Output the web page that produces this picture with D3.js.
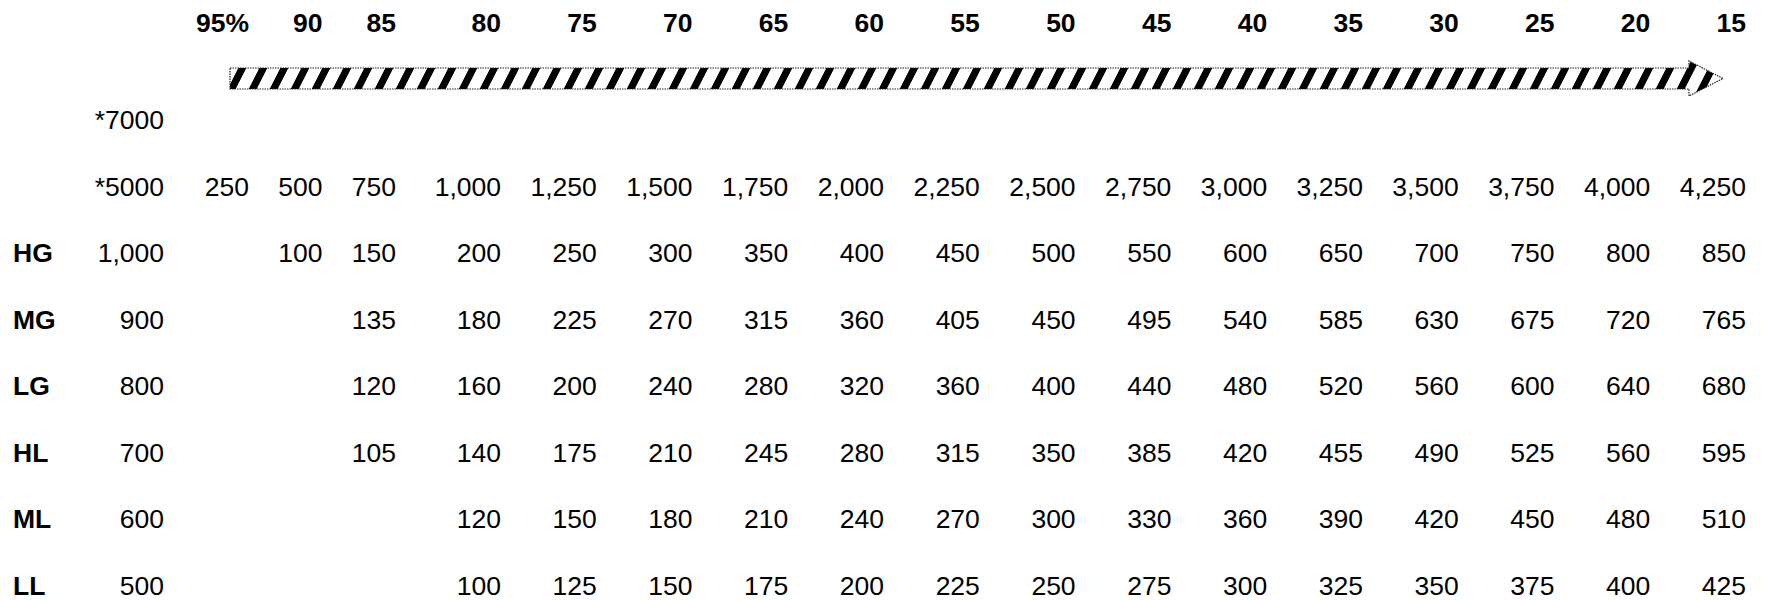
<!DOCTYPE html>
<html>
<head>
<meta charset="utf-8">
<script src="https://cdn.jsdelivr.net/npm/d3@7"></script>
<style>
  body { margin: 0; background: #fff; }
  svg { display: block; font-family: "Liberation Sans", Arial, sans-serif; }
</style>
</head>
<body>
<script>
// ---- data
var colHeads = ["95%", "90", "85", "80", "75", "70", "65", "60", "55", "50", "45", "40", "35", "30", "25", "20", "15"]
var rowLabels = ["", "", "HG", "MG", "LG", "HL", "ML", "LL"]
var rowBase = ["*7000", "*5000", 1000, 900, 800, 700, 600, 500]

var row7000 = []
var row5000 = [250, 500, 750, 1000, 1250, 1500, 1750, 2000, 2250, 2500, 2750, 3000, 3250, 3500, 3750, 4000, 4250]
var rowHG = [null, 100, 150, 200, 250, 300, 350, 400, 450, 500, 550, 600, 650, 700, 750, 800, 850]
var rowMG = [null, null, 135, 180, 225, 270, 315, 360, 405, 450, 495, 540, 585, 630, 675, 720, 765]
var rowLG = [null, null, 120, 160, 200, 240, 280, 320, 360, 400, 440, 480, 520, 560, 600, 640, 680]
var rowHL = [null, null, 105, 140, 175, 210, 245, 280, 315, 350, 385, 420, 455, 490, 525, 560, 595]
var rowML = [null, null, null, 120, 150, 180, 210, 240, 270, 300, 330, 360, 390, 420, 450, 480, 510]
var rowLL = [null, null, null, 100, 125, 150, 175, 200, 225, 250, 275, 300, 325, 350, 375, 400, 425]

var rows = [row7000, row5000, rowHG, rowMG, rowLG, rowHL, rowML, rowLL]

// ---- layout
var width = 1771, height = 600
var fontSize = 26.5
var fmt = d3.format(",")

// column right edges: three narrow cols, then evenly spaced ones
var x = d3.scaleLinear()
	.domain([0, 2, 3, colHeads.length - 1])
	.range([249, 396, 501, 1746])

var y = d3.scaleLinear()
	.domain([0, rows.length - 1])
	.range([129, 595])

var svg = d3.select("body").append("svg")
	.attr("width", width)
	.attr("height", height)

// ---- stripe pattern for the arrow
var defs = svg.append("defs")
var pat = defs.append("pattern")
	.attr("id", "stripes")
	.attr("patternUnits", "userSpaceOnUse")
	.attr("width", 21)
	.attr("height", 21)
	.attr("y", 68)
	.attr("patternTransform", "skewX(-27)")
pat.append("rect")
	.attr("width", 21).attr("height", 21)
	.attr("fill", "#fff")
pat.append("rect")
	.attr("x", 0).attr("width", 8).attr("height", 21)
	.attr("fill", "#000")

// ---- header row
svg.append("g")
	.attr("class", "heads")
	.selectAll("text")
	.data(colHeads)
	.enter()
		.append("text")
		.attr("x", function (d, i) { return x(i) })
		.attr("y", 32)
		.attr("text-anchor", "end")
		.attr("font-size", fontSize)
		.attr("font-weight", "bold")
		.text(function (d) { return d })

// ---- arrow
var ax0 = 230, ax1 = 1689, tip = 1723
var ay0 = 68, ay1 = 89, hy0 = 61, hy1 = 96
var arrow = d3.path()
arrow.moveTo(ax0, ay0)
arrow.lineTo(ax1, ay0)
arrow.lineTo(ax1, hy0)
arrow.lineTo(tip, (ay0 + ay1) / 2)
arrow.lineTo(ax1, hy1)
arrow.lineTo(ax1, ay1)
arrow.lineTo(ax0, ay1)
arrow.closePath()

svg.append("path")
	.attr("d", arrow.toString())
	.attr("fill", "url(#stripes)")
	.attr("stroke", "#222")
	.attr("stroke-width", 1.2)
	.attr("stroke-dasharray", "1.5,1")

// ---- rows
var rowG = svg.append("g")
	.attr("class", "rows")
	.selectAll("g.row")
	.data(rows)
	.enter()
		.append("g")
		.attr("class", "row")
		.attr("transform", function (d, i) { return "translate(0," + y(i) + ")" })

rowG.append("text")
	.attr("x", 13)
	.attr("font-size", fontSize)
	.attr("font-weight", "bold")
	.text(function (d, i) { return rowLabels[i] })

rowG.append("text")
	.attr("x", 164)
	.attr("text-anchor", "end")
	.attr("font-size", fontSize)
	.text(function (d, i) {
		var v = rowBase[i]
		return typeof v === "number" ? fmt(v) : v
	})

rowG.selectAll("text.cell")
	.data(function (d) {
		return d.map(function (v, j) { return { v: v, j: j } })
			.filter(function (c) { return c.v != null })
	})
	.enter()
		.append("text")
		.attr("class", "cell")
		.attr("x", function (c) { return x(c.j) })
		.attr("text-anchor", "end")
		.attr("font-size", fontSize)
		.text(function (c) { return fmt(c.v) })
</script>
</body>
</html>
